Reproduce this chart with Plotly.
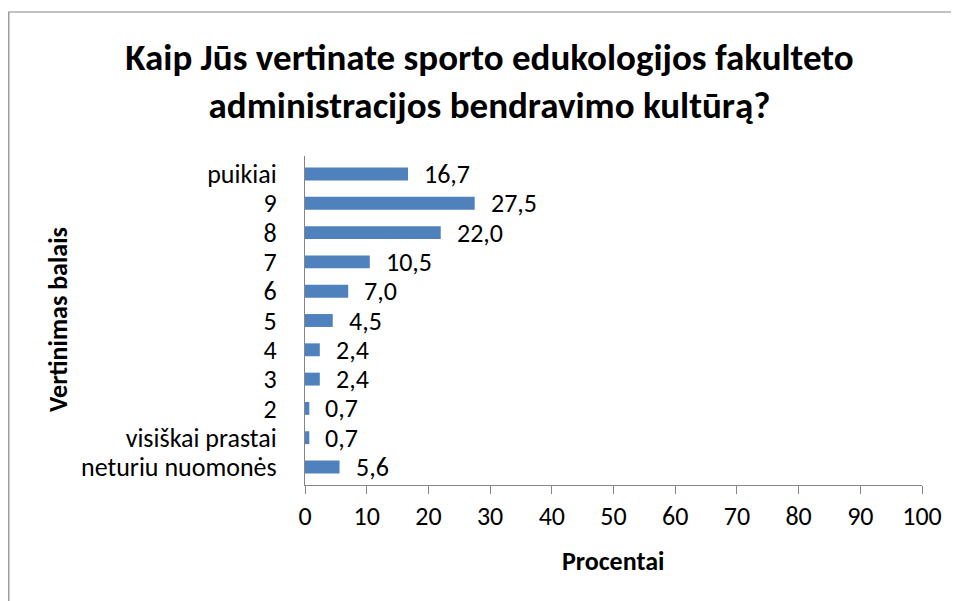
import plotly.graph_objects as go

categories = ["puikiai", "9", "8", "7", "6", "5", "4", "3", "2", "visiškai prastai", "neturiu nuomonės"]
values = [16.7, 27.5, 22.0, 10.5, 7.0, 4.5, 2.4, 2.4, 0.7, 0.7, 5.6]
x_ticks = [0, 10, 20, 30, 40, 50, 60, 70, 80, 90, 100]

FONT = "Carlito, Lato, sans-serif"
OFF = 8  # page body margin
W, H = 959 - OFF, 601 - OFF
L, R, T, B = 305 - OFF, W - (922 - OFF), 156 - OFF, H - (485 - OFF)
pw, ph = W - L - R, H - T - B


def px_x(p):  # reference pixel -> paper x
    return (p - OFF - L) / pw


def px_y(p):  # reference pixel -> paper y
    return (H - B - (p - OFF)) / ph


fig = go.Figure()
fig.add_trace(go.Bar(
    x=values, y=categories, orientation="h",
    marker=dict(color="#4F81BD", line=dict(width=0)),
    hoverinfo="x+y",
))

for i, v in enumerate(values):
    fig.add_annotation(x=v, y=i, text=f"{v:.1f}".replace(".", ","),
                       showarrow=False, xanchor="left", xshift=14,
                       font=dict(family=FONT, size=26, color="#000"))

fig.add_shape(type="rect", xref="paper", yref="paper",
              x0=(0.8 - L) / pw, x1=px_x(990), y0=px_y(640), y1=px_y(12),
              line=dict(color="#868686", width=1.2), fillcolor="rgba(0,0,0,0)", layer="below")

fig.add_annotation(xref="paper", yref="paper", x=px_x(58), y=px_y(320),
                   text="<b>Vertinimas balais</b>", textangle=-90, showarrow=False,
                   xanchor="center", yanchor="middle",
                   font=dict(family=FONT, size=26, color="#000"))
fig.add_annotation(xref="paper", yref="paper", x=px_x(613), y=px_y(561),
                   text="<b>Procentai</b>", showarrow=False,
                   xanchor="center", yanchor="middle",
                   font=dict(family=FONT, size=26, color="#000"))

fig.update_layout(
    width=W, height=H,
    margin=dict(l=L, r=R, t=T, b=B, autoexpand=False),
    paper_bgcolor="white", plot_bgcolor="white",
    bargap=0.56,
    showlegend=False,
    title=dict(text="Kaip Jūs vertinate sporto edukologijos fakulteto<br>administracijos bendravimo kultūrą?",
               x=(489.5 - OFF) / W, xanchor="center", xref="container",
               y=1 - (70 - OFF) / H, yanchor="middle",
               font=dict(family=FONT, size=37, color="#000", weight="bold")),
    font=dict(family=FONT, color="#000"),
)

fig.update_xaxes(
    range=[0, 100], tickvals=x_ticks, ticktext=[str(t) for t in x_ticks],
    showgrid=False, zeroline=False,
    showline=True, linecolor="#868686", linewidth=1.2,
    ticks="outside", ticklen=8, tickcolor="#868686", tickwidth=1.2,
    tickfont=dict(family=FONT, size=26, color="#000"),
    automargin=False,
)
fig.update_yaxes(
    type="category", autorange="reversed", showgrid=False, zeroline=False,
    tickmode="array", tickvals=categories, ticktext=categories,
    showline=True, linecolor="#868686", linewidth=1.2,
    ticks="", ticklabelstandoff=22,
    tickfont=dict(family=FONT, size=26, color="#000"),
    automargin=False,
)

fig.write_html("out.html")
